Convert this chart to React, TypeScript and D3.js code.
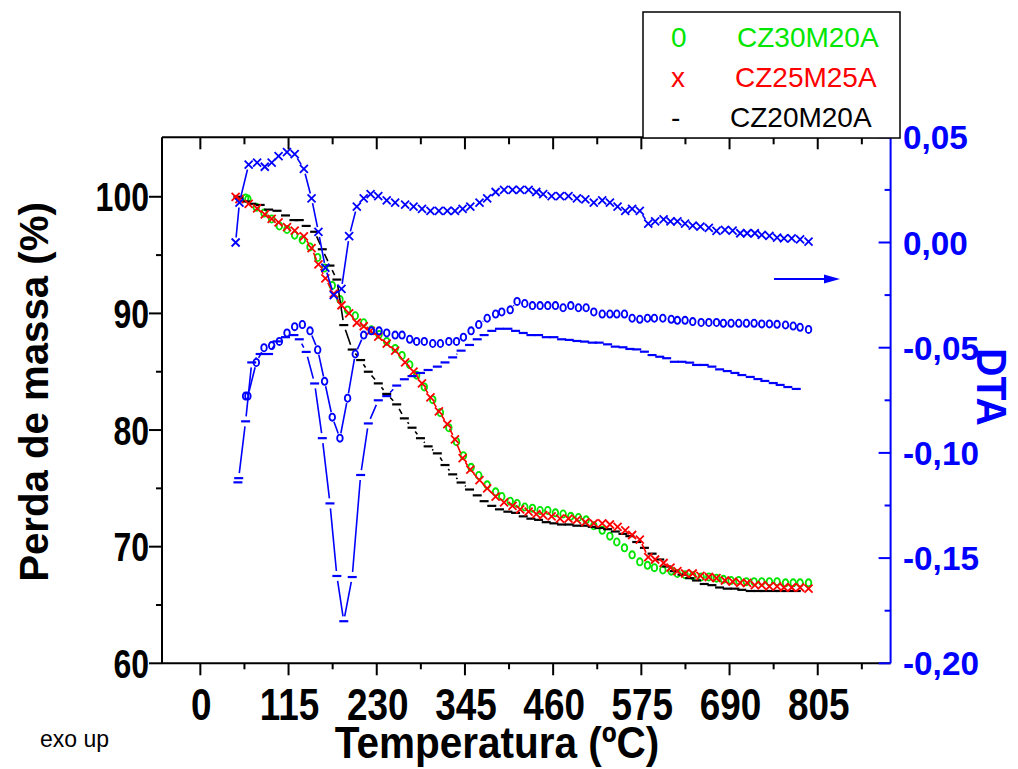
import React from 'react';
import * as d3 from 'd3';

// ---------- data ----------
const xTicks = [0, 115, 230, 345, 460, 575, 690, 805];
const xMinorTicks = [57.5, 172.5, 287.5, 402.5, 517.5, 632.5, 747.5, 862.5];
const yLeftTicks = [60, 70, 80, 90, 100];
const yLeftMinor = [65, 75, 85, 95];
const yRightTicks = [-0.2, -0.15, -0.1, -0.05, 0, 0.05];
const yRightMinor = [-0.175, -0.125, -0.075, -0.025, 0.025];

// CZ25M25A (red x TG) + blue x DTA
const tempA = [46,51,63,74,84,93,102,113,123,135,145,154,163,174,184,194,204,213,222,232,243,254,267,278,289,300,311,322,332,342,352,364,374,385,396,407,417,428,438,447,458,469,480,491,502,513,524,534,544,554,563,573,584,593,604,613,622,632,642,652,663,673,684,694,704,713,723,732,742,752,761,771,782,793];
const tgRed = [100.0,99.8,99.4,99.0,98.5,98.1,97.8,97.4,97.1,96.6,95.6,94.2,93.0,91.7,90.7,90.0,89.2,88.9,88.5,88.0,87.4,86.8,85.8,85.0,84.0,82.8,81.6,80.5,79.2,77.6,76.6,75.7,75.0,74.3,73.8,73.5,73.2,73.0,72.8,72.7,72.6,72.4,72.4,72.3,72.1,72.0,72.0,71.9,71.7,71.4,71.0,70.6,69.1,68.9,68.6,68.2,67.9,67.7,67.7,67.5,67.4,67.3,67.1,67.0,66.9,66.9,66.7,66.7,66.6,66.6,66.5,66.5,66.5,66.4];
const dtaX = [0.000,0.019,0.037,0.038,0.036,0.038,0.041,0.043,0.042,0.035,0.021,0.005,-0.012,-0.025,-0.022,0.003,0.017,0.021,0.023,0.022,0.020,0.019,0.018,0.017,0.016,0.015,0.015,0.015,0.015,0.016,0.017,0.019,0.021,0.024,0.025,0.025,0.025,0.025,0.024,0.023,0.022,0.022,0.022,0.021,0.0205,0.019,0.020,0.019,0.017,0.015,0.016,0.015,0.009,0.010,0.011,0.010,0.010,0.009,0.008,0.0075,0.007,0.0055,0.006,0.0056,0.0044,0.0044,0.0044,0.0036,0.0031,0.0023,0.002,0.002,0.0015,0.0004];

// CZ30M20A (green o TG) + blue o DTA
const tempB = [59,62,73,83,93,103,113,123,133,143,153,162,172,182,192,202,213,223,233,243,254,263,273,282,292,303,313,324,334,343,353,363,374,385,393,404,413,423,433,443,453,463,473,483,493,503,513,524,534,543,553,563,573,583,592,603,614,622,632,642,653,663,673,682,692,702,712,722,732,742,752,763,773,782,793];
const tgGreen = [99.9,99.8,99.1,98.6,98.1,97.5,97.2,96.7,96.3,95.7,94.8,93.9,92.4,91.2,90.3,89.8,89.2,88.6,88.2,87.6,87.0,86.4,85.6,84.7,83.7,82.6,81.5,80.2,79.0,77.8,76.8,76.1,75.3,74.7,74.3,73.9,73.7,73.4,73.3,73.1,73.1,72.9,72.8,72.6,72.5,72.3,71.8,71.4,70.9,70.4,69.9,69.3,68.7,68.4,68.2,68.0,67.9,67.7,67.6,67.5,67.4,67.4,67.3,67.2,67.1,67.1,67.0,67.0,67.0,67.0,67.0,66.9,66.9,66.9,66.9];
const dtaO = [-0.073,-0.073,-0.057,-0.050,-0.049,-0.047,-0.043,-0.040,-0.039,-0.042,-0.051,-0.066,-0.083,-0.093,-0.074,-0.053,-0.044,-0.042,-0.042,-0.043,-0.044,-0.044,-0.046,-0.047,-0.047,-0.048,-0.048,-0.047,-0.047,-0.045,-0.042,-0.039,-0.036,-0.034,-0.033,-0.032,-0.028,-0.029,-0.030,-0.030,-0.030,-0.030,-0.031,-0.030,-0.031,-0.031,-0.033,-0.034,-0.034,-0.034,-0.034,-0.036,-0.0365,-0.036,-0.036,-0.036,-0.0365,-0.037,-0.037,-0.0376,-0.038,-0.038,-0.038,-0.0384,-0.0384,-0.0384,-0.0384,-0.0384,-0.0387,-0.0387,-0.0389,-0.0392,-0.0397,-0.0403,-0.0413];

// CZ20M20A (black - TG) + blue - DTA
const tempC = [49,50,59,67,78,89,100,111,122,129,138,149,159,169,178,187,198,209,219,232,243,256,266,276,287,297,309,319,329,340,351,361,370,380,390,401,411,421,431,441,451,461,471,481,491,501,511,520,531,541,551,560,569,579,589,599,608,618,628,638,647,657,667,677,687,697,706,717,727,736,747,756,766,777];
const tgBlack = [100.0,99.9,99.6,99.4,99.3,98.9,98.8,98.4,98.0,98.0,97.5,97.0,95.5,94.1,92.9,89.0,86.9,86.0,85.0,84.0,83.1,82.2,81.0,80.2,79.3,78.6,78.0,77.0,76.2,75.5,74.9,74.4,73.9,73.5,73.2,73.0,72.9,72.6,72.4,72.3,72.1,72.0,71.9,71.9,71.8,71.8,71.7,71.6,71.5,71.3,71.1,70.9,70.4,69.9,69.4,68.9,68.3,67.9,67.6,67.3,67.1,66.8,66.7,66.5,66.4,66.4,66.3,66.2,66.2,66.2,66.2,66.2,66.2,66.2];
const dtaDash = [-0.114,-0.112,-0.085,-0.057,-0.053,-0.053,-0.047,-0.045,-0.044,-0.046,-0.052,-0.067,-0.093,-0.124,-0.1585,-0.180,-0.159,-0.1105,-0.086,-0.075,-0.073,-0.068,-0.065,-0.0635,-0.062,-0.0606,-0.059,-0.057,-0.0546,-0.0514,-0.0487,-0.046,-0.044,-0.042,-0.041,-0.041,-0.042,-0.043,-0.044,-0.044,-0.045,-0.045,-0.046,-0.0463,-0.0468,-0.0471,-0.0476,-0.0476,-0.0484,-0.0495,-0.0498,-0.0506,-0.0508,-0.0519,-0.0535,-0.0543,-0.055,-0.0567,-0.0567,-0.0571,-0.0582,-0.0582,-0.059,-0.0603,-0.0611,-0.062,-0.063,-0.0639,-0.0649,-0.0658,-0.0668,-0.0677,-0.0687,-0.0696];

const legendLabels = ['CZ30M20A', 'CZ25M25A', 'CZ20M20A'];
const legendSymbols = ['0', 'x', '-'];

// ---------- styles ----------
const FONT = '"Liberation Sans", Arial, Helvetica, sans-serif';
const BLUE = '#0000ff';
const GREEN = '#00e600';
const RED = '#ff0000';
const BLACK = '#000000';
const legendColors = [GREEN, RED, BLACK];

type Pt = [number, number];

function gappedPath(pts: Pt[], gap: number): string {
  let d = '';
  for (let i = 0; i < pts.length - 1; i++) {
    const [x1, y1] = pts[i];
    const [x2, y2] = pts[i + 1];
    const dx = x2 - x1, dy = y2 - y1;
    const L = Math.hypot(dx, dy);
    if (L <= 2 * gap + 0.5) continue;
    const ux = dx / L, uy = dy / L;
    d += `M${(x1 + ux * gap).toFixed(2)},${(y1 + uy * gap).toFixed(2)}L${(x2 - ux * gap).toFixed(2)},${(y2 - uy * gap).toFixed(2)}`;
  }
  return d;
}

function Marker({ kind, x, y, color }: { kind: string; x: number; y: number; color: string }) {
  if (kind === 'o') {
    return <ellipse cx={x} cy={y} rx={2.8} ry={3.6} fill="none" stroke={color} strokeWidth={1.8} />;
  }
  if (kind === 'x') {
    const s = 4;
    return <path d={`M${x - s},${y - s}L${x + s},${y + s}M${x - s},${y + s}L${x + s},${y - s}`} stroke={color} strokeWidth={1.8} fill="none" />;
  }
  return <path d={`M${x - 4.5},${y}L${x + 4.5},${y}`} stroke={color} strokeWidth={2.2} fill="none" />;
}

function Series({ temps, vals, xs, ys, color, kind, line, gap }: any) {
  const pts: Pt[] = temps.map((t: number, i: number) => [xs(t), ys(vals[i])] as Pt);
  return (
    <g>
      {line && <path d={gappedPath(pts, gap)} stroke={color} strokeWidth={1.6} fill="none" />}
      {pts.map((p, i) => <Marker key={i} kind={kind} x={p[0]} y={p[1]} color={color} />)}
    </g>
  );
}

function SText({ x, y, sx = 1, rot = 0, children, ...rest }: any) {
  return (
    <text transform={`translate(${x},${y})${rot ? ` rotate(${rot})` : ''} scale(${sx},1)`} {...rest}>
      {children}
    </text>
  );
}

export default function App() {
  const W = 1018, H = 769;
  const left = 162, right = 890.6, top = 137.3, bottom = 663.3;
  const x = d3.scaleLinear().domain([-50, 900]).range([left, right]);
  const yL = d3.scaleLinear().domain([60, 105.1]).range([bottom, top]);
  const yR = d3.scaleLinear().domain([-0.2, 0.05]).range([bottom, top]);
  const locale = d3.formatLocale({ decimal: ',', thousands: '.', grouping: [3], currency: ['', ''], minus: '-' });
  const fmtR = locale.format('.2f');

  return (
    <svg width={W} height={H} viewBox={`0 0 ${W} ${H}`} style={{ position: 'absolute', left: 0, top: 0, background: '#fff' }} fontFamily={FONT}>
      <rect x={0} y={0} width={W} height={H} fill="#fff" />

      {/* TG series */}
      <Series temps={tempB} vals={tgGreen} xs={x} ys={yL} color={GREEN} kind="o" line={false} gap={5} />
      <Series temps={tempC} vals={tgBlack} xs={x} ys={yL} color={BLACK} kind="-" line={true} gap={5} />
      <Series temps={tempA} vals={tgRed} xs={x} ys={yL} color={RED} kind="x" line={true} gap={5} />

      {/* DTA series */}
      <Series temps={tempA} vals={dtaX} xs={x} ys={yR} color={BLUE} kind="x" line={true} gap={5} />
      <Series temps={tempB} vals={dtaO} xs={x} ys={yR} color={BLUE} kind="o" line={true} gap={5} />
      <Series temps={tempC} vals={dtaDash} xs={x} ys={yR} color={BLUE} kind="-" line={true} gap={5} />

      {/* axes frame */}
      <line x1={left} y1={top} x2={right} y2={top} stroke={BLACK} strokeWidth={2} />
      <line x1={left} y1={bottom} x2={right} y2={bottom} stroke={BLACK} strokeWidth={2} />
      <line x1={left} y1={top} x2={left} y2={bottom} stroke={BLACK} strokeWidth={2} />
      <line x1={right} y1={top} x2={right} y2={bottom} stroke={BLUE} strokeWidth={2} />

      {/* x ticks: bottom outward, top inward */}
      {xTicks.map((t) => (
        <g key={'xt' + t}>
          <line x1={x(t)} x2={x(t)} y1={bottom} y2={bottom + 12} stroke={BLACK} strokeWidth={2} />
          <line x1={x(t)} x2={x(t)} y1={top} y2={top + 12} stroke={BLACK} strokeWidth={2} />
          <SText x={x(t) + 1} y={720} sx={0.82} textAnchor="middle" fontSize={45} fontWeight="bold" fill={BLACK}>{String(t)}</SText>
        </g>
      ))}
      {xMinorTicks.map((t) => (
        <g key={'xm' + t}>
          <line x1={x(t)} x2={x(t)} y1={bottom} y2={bottom + 6} stroke={BLACK} strokeWidth={2} />
          <line x1={x(t)} x2={x(t)} y1={top} y2={top + 7} stroke={BLACK} strokeWidth={2} />
        </g>
      ))}

      {/* left axis ticks */}
      {yLeftTicks.map((v) => (
        <g key={'yl' + v}>
          <line x1={left - 13} x2={left} y1={yL(v)} y2={yL(v)} stroke={BLACK} strokeWidth={2} />
          <SText x={149} y={yL(v) + 14.5} sx={0.8} textAnchor="end" fontSize={40} fontWeight="bold" fill={BLACK}>{String(v)}</SText>
        </g>
      ))}
      {yLeftMinor.map((v) => (
        <line key={'ylm' + v} x1={left - 6} x2={left} y1={yL(v)} y2={yL(v)} stroke={BLACK} strokeWidth={2} />
      ))}

      {/* right axis ticks (inward) */}
      {yRightTicks.map((v) => (
        <g key={'yr' + v}>
          <line x1={right - 12} x2={right} y1={yR(v)} y2={yR(v)} stroke={BLUE} strokeWidth={2} />
          <SText x={903} y={yR(v) + 12} sx={0.98} textAnchor="start" fontSize={34} fontWeight="bold" fill={BLUE}>{fmtR(v)}</SText>
        </g>
      ))}
      {yRightMinor.map((v) => (
        <line key={'yrm' + v} x1={right - 6} x2={right} y1={yR(v)} y2={yR(v)} stroke={BLUE} strokeWidth={2} />
      ))}

      {/* axis titles */}
      <SText x={497} y={758} sx={0.9} textAnchor="middle" fontSize={45} fontWeight="bold" fill={BLACK}>Temperatura (ºC)</SText>
      <SText x={48} y={392} rot={-90} sx={0.98} textAnchor="middle" fontSize={41} fontWeight="bold" fill={BLACK}>Perda de massa (%)</SText>
      <SText x={977} y={387} rot={90} sx={0.93} textAnchor="middle" fontSize={42} fontWeight="bold" fill={BLUE}>DTA</SText>
      <text x={40} y={747} fontSize={23} fill={BLACK}>exo up</text>

      {/* arrow */}
      <line x1={774} y1={279} x2={826} y2={279} stroke={BLUE} strokeWidth={2} />
      <path d="M824,274.5L840,279L824,283.5Z" fill={BLUE} />

      {/* legend */}
      <rect x={643} y={12} width={257} height={126} fill="#fff" stroke={BLACK} strokeWidth={1.5} />
      {legendLabels.map((lab, i) => (
        <g key={lab}>
          <text x={671} y={47 + i * 40} fontSize={28} fill={legendColors[i]}>{legendSymbols[i]}</text>
          <text x={[737, 735, 730][i]} y={47 + i * 40} fontSize={28} fill={legendColors[i]}>{lab}</text>
        </g>
      ))}
    </svg>
  );
}
